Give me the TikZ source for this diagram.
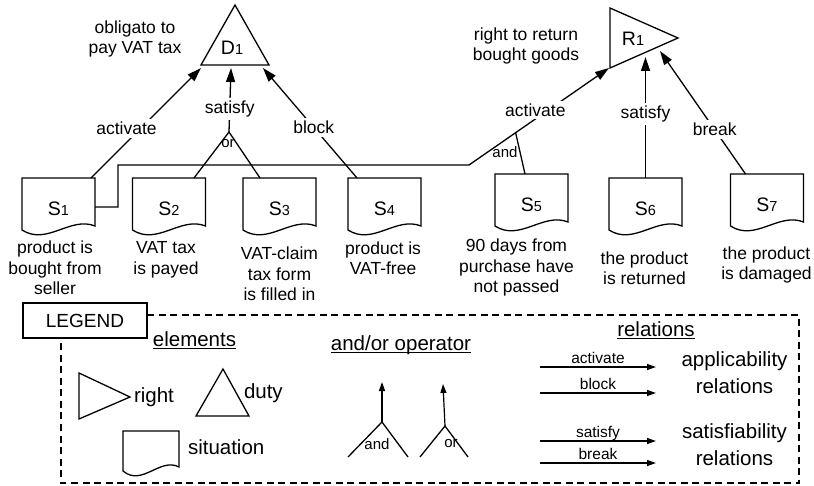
\documentclass[tikz,border=0pt]{standalone}
\usepackage{fontspec}
\setmainfont{Liberation Sans}
\usetikzlibrary{arrows.meta,calc}

\newcommand\fmain{\fontsize{17.5}{20.5}\selectfont}
\newcommand\fbig{\fontsize{20.5}{27}\selectfont}
\newcommand\fleg{\fontsize{15.5}{18}\selectfont}
\newcommand\fop{\fontsize{15}{18}\selectfont}
\newcommand\fid{\fontsize{19.5}{22}\selectfont}
\newcommand\flegend{\fontsize{19}{22}\selectfont}
\newcommand\subdig[1]{{\fontsize{14.5}{16}\selectfont #1}}
\newcommand\ulx[1]{\underline{\smash{#1}}}

\begin{document}
\begin{tikzpicture}[x=1pt,y=-1pt,
  every node/.style={inner sep=0pt, outer sep=0pt},
  ln/.style={line width=1.3pt},
  arr/.style={ln, -{Triangle[length=14pt,width=9pt]}},
  sarr/.style={line width=1.2pt, -{Triangle[length=9pt,width=6pt]}},
  sitbox/.style={minimum width=73pt, minimum height=52pt, text height=23.5pt, text depth=0pt, font=\fid},
  desc/.style={align=center, font=\fmain},
  lbl/.style={font=\fmain, fill=white, inner sep=3pt},
  rlbl/.style={font=\fleg, anchor=base, yshift=4pt},
  head/.style={font=\fbig, anchor=base},
  legtxt/.style={font=\fbig, anchor=west},
  frame/.style={line width=1.3pt, dash pattern=on 7pt off 4.5pt}
]
\fill[white] (0,0) rectangle (814,486);
\useasboundingbox (0,0) rectangle (814,486);

% ---- duty and right ----
\node[minimum width=68pt, minimum height=60pt] (d1) at (235,35) {};
\draw[ln] (d1.south west) -- (d1.north) -- (d1.south east) -- cycle;
\node[font=\fid] (d1t) at (232,47.5) {D\subdig{1}};
\node[desc] (d1d) at (135,39) {obligato to\\pay VAT tax};

\node[minimum width=68pt, minimum height=60pt] (r1) at (644,38) {};
\draw[ln] (r1.north west) -- (r1.east) -- (r1.south west) -- cycle;
\node[font=\fid] (r1t) at (633,38.5) {R\subdig{1}};
\node[desc] (r1d) at (526,46) {right to return\\bought goods};

% ---- situations ----
\node[sitbox] (s1) at (58.5,204) {S\subdig{1}};
\node[sitbox] (s2) at (169,204) {S\subdig{2}};
\node[sitbox] (s3) at (279.5,204) {S\subdig{3}};
\node[sitbox] (s4) at (384.5,204) {S\subdig{4}};
\node[sitbox] (s5) at (531.5,200) {S\subdig{5}};
\node[sitbox] (s6) at (645.5,204) {S\subdig{6}};
\node[sitbox] (s7) at (767,200) {S\subdig{7}};
\node[minimum width=56pt, minimum height=40pt] (lsit) at (151,451) {};

\foreach \n in {s1,s2,s3,s4,s5,s6,s7,lsit}
  \draw[ln] (\n.north west) -- (\n.south west)
    .. controls ($(\n.south west)!0.34!(\n.south east)+(0,16)$)
    and ($(\n.south west)!0.66!(\n.south east)+(0,-14)$)
    .. ($(\n.south east)+(0,-4)$) -- (\n.north east) -- cycle;

\node[desc] (s1d) at (55,268) {product is\\bought from\\seller};
\node[desc] (s2d) at (166,260) {VAT tax\\is payed};
\node[desc] (s3d) at (279.5,274) {VAT-claim\\tax form\\is filled in};
\node[desc] (s4d) at (383,258) {product is\\VAT-free};
\node[desc] (s5d) at (516.5,267.5) {90 days from\\purchase have\\not passed};
\node[desc] (s6d) at (644.5,268) {the product\\is returned};
\node[desc] (s7d) at (766.5,265) {the product\\is damaged};

% ---- relations to D1 ----
\draw[arr] ($(s1.north east)+(-4,0)$) -- node[lbl, pos=0.45, xshift=-14pt] (la) {activate} ($(d1.south west)+(0,3)$);
\coordinate (orj) at (229,132);
\draw[arr] (orj) -- node[lbl, pos=0.36] (ls) {satisfy} ($(d1.south)+(-4,3)$);
\draw[ln] ($(s2.north)+(25,0)$) -- (orj) -- ($(s3.north)+(-19.5,0)$);
\node[font=\fop] (ort) at (228,144) {or};
\draw[arr] ($(s4.north west)+(9,0)$) -- node[lbl, pos=0.46] (lb) {block} ($(d1.south east)+(-6,3)$);

% ---- relations to R1 ----
\draw[arr] ($(s1.east)+(0,3)$) -- ++(23,0) -- ++(0,-42) -- ++(351,0)
  -- node[pos=0.333, coordinate] (andj) {}
     node[lbl, pos=0.567, xshift=-13pt] (lra) {activate} ($(r1.south west)+(-1,0)$);
\draw[ln] ($(s5.north)+(-6.5,0)$) -- (andj);
\node[font=\fop] (andt) at (505,152) {and};
\coordinate (r1sat) at ($(r1.south)+(1.5,-11)$);
\draw[arr] (s6.north) -- node[lbl, pos=0.53] (lrs) {satisfy} (r1sat);
\draw[arr] ($(s7.north west)+(15,0)$) -- node[lbl, pos=0.36] (lrb) {break} ($(r1.south)+(16,-17)$);

% ---- legend ----
\node[draw, ln, minimum width=124pt, minimum height=35pt, font=\flegend] (leg) at (85,320.5) {LEGEND};
\draw[frame] ($(leg.north east)+(0,12)$) -- (799,315) -- (799,483) -- (61,483) -- (61,338);

\node[head] (hel) at (194.5,346.5) {\ulx{elements}};
\node[head] (hop) at (401,351) {\ulx{and/or operator}};
\node[head] (hrel) at (656,336.5) {\ulx{relations}};

\draw[ln] (79,373) -- (130,397) -- (79,419) -- cycle;
\node[legtxt] (lright) at (134,397) {right};
\draw[ln] (196,416) -- (223,369) -- (249,416) -- cycle;
\node[legtxt] (lduty) at (244,393) {duty};
\node[legtxt] (lsitt) at (188,447) {situation};

\coordinate (andl) at (382,422);
\draw[sarr] (andl) -- ++(0,-40);
\draw[ln] (348,457) -- (andl) -- (408,457);
\node[font=\fop] (andlt) at (377,444) {and};
\coordinate (orl) at (445,426);
\draw[sarr] (orl) -- ++(-2,-42);
\draw[ln] (420,457) -- (orl) -- (468,457);
\node[font=\fop] (orlt) at (451,444) {or};

\draw[sarr] (540,367) -- node[rlbl] (ra) {activate} (656,367);
\draw[sarr] (540,393) -- node[rlbl] (rb) {block} (656,393);
\draw[sarr] (540,441) -- node[rlbl] (rs) {satisfy} (656,441);
\draw[sarr] (540,463) -- node[rlbl] (rk) {break} (656,463);

\node[font=\fbig, align=center] (app) at (734.5,372.5) {applicability\\relations};
\node[font=\fbig, align=center] (sat) at (734.5,444.5) {satisfiability\\relations};
\end{tikzpicture}
\end{document}
